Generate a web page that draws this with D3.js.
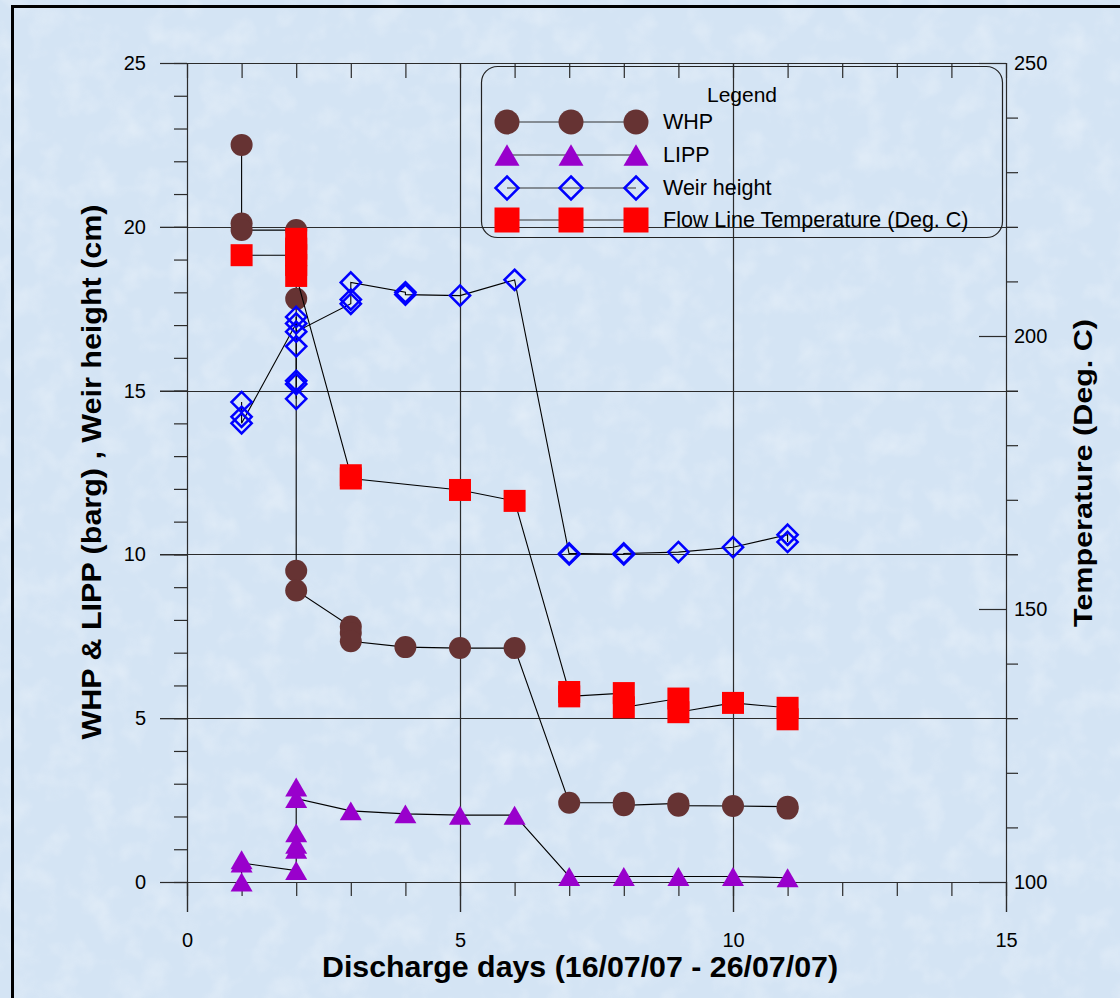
<!DOCTYPE html>
<html>
<head>
<meta charset="utf-8">
<script src="https://cdn.jsdelivr.net/npm/d3@7"></script>
<style>
  html, body { margin: 0; padding: 0; background: #d6e6f5; }
  svg { display: block; }
  text { font-family: "Liberation Sans", Arial, sans-serif; fill: #000; }
</style>
</head>
<body>
<svg id="chart" width="1120" height="998"></svg>
<script>
// ---------------- DATA ----------------
const xTickLabels = [0, 5, 10, 15];
const yLeftTickLabels = [0, 5, 10, 15, 20, 25];
const yRightTickLabels = [100, 150, 200, 250];

const whpDays = [1, 1, 1, 2, 2, 2, 2, 3, 3, 3, 4, 5, 6, 7, 8, 8, 9, 9, 10, 11, 11];
const whpVals = [22.5, 20.1, 19.9, 19.9, 17.8, 9.5, 8.9, 7.8, 7.6, 7.35, 7.17, 7.14, 7.14, 2.42, 2.42, 2.34, 2.4, 2.33, 2.32, 2.3, 2.24];

const lippDays = [1, 1, 1, 2, 2, 2, 2, 2, 2, 3, 4, 5, 6, 7, 8, 9, 10, 11];
const lippVals = [0.0, 0.68, 0.58, 0.35, 1.0, 1.15, 1.5, 2.9, 2.55, 2.17, 2.08, 2.04, 2.04, 0.17, 0.17, 0.17, 0.17, 0.13];

const weirDays = [1, 1, 1, 2, 2, 2, 2, 2, 2, 2, 3, 3, 3, 4, 4, 5, 6, 7, 7, 8, 8, 9, 10, 11, 11];
const weirVals = [14.65, 14.2, 14.0, 17.05, 14.75, 15.2, 15.3, 16.35, 17.25, 16.8, 17.65, 17.78, 18.3, 18.0, 17.93, 17.9, 18.38, 10.0, 10.03, 10.0, 10.03, 10.07, 10.22, 10.6, 10.38];

const tempDays = [1, 2, 2, 2, 2, 2, 3, 3, 5, 6, 7, 7, 8, 8, 9, 9, 10, 11, 11];
const tempVals = [214.8, 214.8, 217.8, 216.0, 213.0, 211.0, 174.5, 173.9, 171.8, 169.8, 134.8, 134.0, 134.6, 132.0, 133.6, 131.1, 132.8, 131.9, 129.8];

const seriesNames = ["WHP", "LIPP", "Weir height", "Flow Line Temperature (Deg. C)"];

// ---------------- LAYOUT ----------------
const svg = d3.select("#chart");
const X0 = 187, X1 = 1006, Y0 = 882, Y1 = 63;
const x = d3.scaleLinear().domain([0, 15]).range([X0, X1]);
const yL = d3.scaleLinear().domain([0, 25]).range([Y0, Y1]);
const yR = d3.scaleLinear().domain([100, 250]).range([Y0, Y1]);

// background (light blue, subtly mottled) + frame
const defs = svg.append("defs");
const f = defs.append("filter").attr("id", "mottle").attr("x", 0).attr("y", 0).attr("width", "100%").attr("height", "100%");
f.append("feTurbulence").attr("type", "fractalNoise").attr("baseFrequency", 0.035).attr("numOctaves", 3).attr("seed", 7).attr("result", "n");
f.append("feColorMatrix").attr("in", "n").attr("type", "matrix")
  .attr("values", "0 0 0 0 1  0 0 0 0 1  0 0 0 0 1  0 0 0 1.1 -0.5");
svg.append("rect").attr("x", 0).attr("y", 0).attr("width", 1120).attr("height", 998).attr("fill", "#d4e4f4");
svg.append("rect").attr("x", 0).attr("y", 0).attr("width", 1120).attr("height", 998).attr("filter", "url(#mottle)").attr("opacity", 0.55);
svg.append("rect").attr("x", 12.5).attr("y", 6.5).attr("width", 1130).attr("height", 1010)
  .attr("fill", "none").attr("stroke", "#000").attr("stroke-width", 3);

const gridCol = "#2b2b2b";
// horizontal gridlines (left axis)
svg.append("g").selectAll("line").data([5, 10, 15, 20]).join("line")
  .attr("x1", 160).attr("x2", 1018)
  .attr("y1", d => Math.round(yL(d)) + 0.5).attr("y2", d => Math.round(yL(d)) + 0.5)
  .attr("stroke", gridCol).attr("stroke-width", 1.2);
// vertical gridlines
svg.append("g").selectAll("line").data([0, 5, 10, 15]).join("line")
  .attr("x1", d => Math.round(x(d)) + 0.5).attr("x2", d => Math.round(x(d)) + 0.5)
  .attr("y1", Y1).attr("y2", 912)
  .attr("stroke", gridCol).attr("stroke-width", 1.2);
// top & bottom frame lines
svg.append("line").attr("x1", 160).attr("x2", X1).attr("y1", Y1 + 0.5).attr("y2", Y1 + 0.5).attr("stroke", gridCol).attr("stroke-width", 1.2);
svg.append("line").attr("x1", 160).attr("x2", X1).attr("y1", Y0 + 0.5).attr("y2", Y0 + 0.5).attr("stroke", gridCol).attr("stroke-width", 1.2);

function styleAxis(g, fs) {
  g.select(".domain").remove();
  g.selectAll(".tick line").attr("stroke", gridCol).attr("stroke-width", 1.2);
  g.selectAll("text").attr("font-size", fs).attr("font-family", "'Liberation Sans', Arial, sans-serif").attr("fill", "#000");
}

// left axis
svg.append("g").attr("transform", `translate(${X0},0)`)
  .call(d3.axisLeft(yL).tickValues(d3.range(0, 26)).tickSize(13).tickFormat(""))
  .call(g => styleAxis(g, 20));
svg.append("g").attr("transform", `translate(${X0},0)`)
  .call(d3.axisLeft(yL).tickValues(yLeftTickLabels).tickSize(27).tickPadding(14))
  .call(g => styleAxis(g, 20));

// right axis: minor ticks outward (not at labelled values), majors inward
svg.append("g").attr("transform", `translate(${X1},0)`)
  .call(d3.axisRight(yR).tickValues(d3.range(100, 251, 10).filter(v => v % 50 !== 0)).tickSize(12).tickFormat(""))
  .call(g => styleAxis(g, 20));
svg.append("g").attr("transform", `translate(${X1},0)`)
  .call(d3.axisRight(yR).tickValues(yRightTickLabels).tickSize(-27).tickPadding(8))
  .call(g => styleAxis(g, 20));

// bottom axis
svg.append("g").attr("transform", `translate(0,${Y0})`)
  .call(d3.axisBottom(x).tickValues(d3.range(0, 16)).tickSize(14).tickFormat(""))
  .call(g => styleAxis(g, 20));
svg.append("g").attr("transform", `translate(0,${Y0})`)
  .call(d3.axisBottom(x).tickValues(xTickLabels).tickSize(30).tickPadding(21))
  .call(g => styleAxis(g, 20));

// top axis (ticks pointing inward)
svg.append("g").attr("transform", `translate(0,${Y1})`)
  .call(d3.axisBottom(x).tickValues(d3.range(0, 16)).tickSize(15).tickFormat(""))
  .call(g => styleAxis(g, 20));

// axis titles
svg.append("text").attr("x", 580).attr("y", 977).attr("text-anchor", "middle")
  .attr("font-size", 29).attr("font-weight", "bold")
  .attr("textLength", 516).attr("lengthAdjust", "spacingAndGlyphs")
  .text("Discharge days (16/07/07 - 26/07/07)");
svg.append("text").attr("transform", "translate(101,472) rotate(-90)").attr("text-anchor", "middle")
  .attr("font-size", 27).attr("font-weight", "bold")
  .attr("textLength", 535).attr("lengthAdjust", "spacingAndGlyphs")
  .text("WHP & LIPP (barg) , Weir  height (cm)");
svg.append("text").attr("transform", "translate(1092,473) rotate(-90)").attr("text-anchor", "middle")
  .attr("font-size", 26).attr("font-weight", "bold")
  .attr("textLength", 308).attr("lengthAdjust", "spacingAndGlyphs")
  .text("Temperature (Deg. C)");

// ---------------- SERIES ----------------
const zip = (ds, vs) => ds.map((d, i) => ({ d, v: vs[i] }));
const lineGen = (ys) => d3.line().x(p => x(p.d)).y(p => ys(p.v));

const triPath = (w, h) => `M0,${-h / 2}L${w / 2},${h / 2}L${-w / 2},${h / 2}Z`;
const diaPath = (w) => `M0,${-w / 2}L${w / 2},0L0,${w / 2}L${-w / 2},0Z`;

function drawMarker(g, type, size) {
  if (type === "circle") {
    g.append("circle").attr("r", size / 2).attr("fill", "#663333");
  } else if (type === "triangle") {
    g.append("path").attr("d", triPath(size, size * 0.86)).attr("fill", "#9900cc");
  } else if (type === "diamond") {
    g.append("path").attr("d", diaPath(size * 0.92)).attr("fill", "none").attr("stroke", "#0000ff").attr("stroke-width", 2.5);
  } else if (type === "square") {
    g.append("rect").attr("x", -size / 2).attr("y", -size / 2).attr("width", size).attr("height", size).attr("fill", "#ff0000");
  }
}

const series = [
  { pts: zip(whpDays, whpVals), ys: yL, type: "circle" },
  { pts: zip(lippDays, lippVals), ys: yL, type: "triangle" },
  { pts: zip(weirDays, weirVals), ys: yL, type: "diamond" },
  { pts: zip(tempDays, tempVals), ys: yR, type: "square" }
];

series.forEach(s => {
  const g = svg.append("g");
  g.append("path").datum(s.pts).attr("d", lineGen(s.ys)).attr("fill", "none").attr("stroke", "#000").attr("stroke-width", 1.1);
  g.selectAll("g.m").data(s.pts).join("g").attr("class", "m")
    .attr("transform", p => `translate(${x(p.d)},${s.ys(p.v)})`)
    .each(function () { drawMarker(d3.select(this), s.type, 22); });
});

// ---------------- LEGEND ----------------
const lg = svg.append("g");
lg.append("rect").attr("x", 481.5).attr("y", 66.5).attr("width", 521).attr("height", 171).attr("rx", 16).attr("ry", 16)
  .attr("fill", "none").attr("stroke", "#222").attr("stroke-width", 1.2);
lg.append("text").attr("x", 742).attr("y", 94).attr("text-anchor", "middle").attr("dominant-baseline", "central")
  .attr("font-size", 21).text("Legend");
const legTypes = ["circle", "triangle", "diamond", "square"];
const legY = [122, 155, 188, 220];
const legX = [507, 571, 636];
seriesNames.forEach((name, i) => {
  lg.append("line").attr("x1", legX[0]).attr("x2", legX[2]).attr("y1", legY[i]).attr("y2", legY[i])
    .attr("stroke", "#333").attr("stroke-width", 1.2);
  legX.forEach(xx => {
    const m = lg.append("g").attr("transform", `translate(${xx},${legY[i]})`);
    drawMarker(m, legTypes[i], 25);
  });
  lg.append("text").attr("x", 663).attr("y", legY[i]).attr("dominant-baseline", "central")
    .attr("font-size", 21.5).text(name);
});
</script>
</body>
</html>
